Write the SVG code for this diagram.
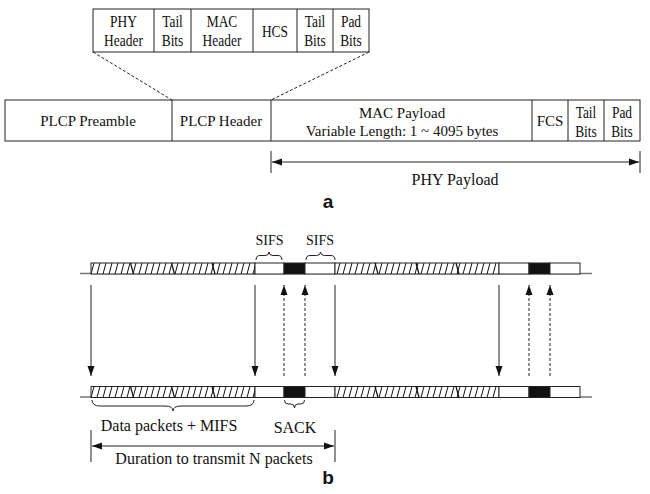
<svg xmlns="http://www.w3.org/2000/svg" width="650" height="494" viewBox="0 0 650 494">
<style>
.t{font-family:"Liberation Serif","Times New Roman",serif;font-size:16px;fill:#111;text-anchor:middle}
.m{font-family:"Liberation Serif","Times New Roman",serif;font-size:15px;fill:#111;text-anchor:middle}
.sf{font-family:"Liberation Serif","Times New Roman",serif;font-size:14px;fill:#111;text-anchor:middle}
.s{font-family:"Liberation Serif","Times New Roman",serif;font-size:16px;fill:#111;text-anchor:middle}
.lab{font-family:"Liberation Sans",Arial,sans-serif;font-size:19px;font-weight:bold;fill:#111;text-anchor:middle}
.box{fill:#fff;stroke:#222;stroke-width:1}
.ln{stroke:#222;stroke-width:1;fill:none}
.dash{stroke:#222;stroke-width:1;fill:none;stroke-dasharray:3,2}
.base{stroke:#777;stroke-width:1.5;fill:none}
.hat{stroke:#222;stroke-width:1}
.blk{fill:#111;stroke:#222;stroke-width:1}
.sep{stroke:#111;stroke-width:1.2}
</style>
<defs>
<pattern id="hatch" patternUnits="userSpaceOnUse" width="6" height="11" x="0" y="263">
<rect width="6" height="11" fill="#fff"/>
<line x1="1" y1="11" x2="4" y2="0" stroke="#111" stroke-width="1"/>
</pattern>
<pattern id="hatch2" patternUnits="userSpaceOnUse" width="6" height="11" x="0" y="386.5">
<rect width="6" height="11" fill="#fff"/>
<line x1="1" y1="11" x2="4" y2="0" stroke="#111" stroke-width="1"/>
</pattern>
<marker id="ah" viewBox="0 0 10 10" refX="10" refY="5" markerWidth="10" markerHeight="10" markerUnits="userSpaceOnUse" orient="auto">
<path d="M0,1.5 L10,5 L0,8.5 Z" fill="#111"/>
</marker>
<marker id="ahs" viewBox="0 0 10 10" refX="10" refY="5" markerWidth="10" markerHeight="10" markerUnits="userSpaceOnUse" orient="auto-start-reverse">
<path d="M0,1.5 L10,5 L0,8.5 Z" fill="#111"/>
</marker>
</defs>

<!-- Part a: header breakdown -->
<g id="header-fields">
<rect class="box" x="93" y="9" width="276" height="43"/>
<line class="ln" x1="154" y1="9" x2="154" y2="52"/>
<line class="ln" x1="191" y1="9" x2="191" y2="52"/>
<line class="ln" x1="253" y1="9" x2="253" y2="52"/>
<line class="ln" x1="297" y1="9" x2="297" y2="52"/>
<line class="ln" x1="333" y1="9" x2="333" y2="52"/>
<g transform="scale(0.84,1)">
<text class="t" x="147.02" y="27">PHY</text>
<text class="t" x="147.02" y="46">Header</text>
<text class="t" x="205.36" y="27">Tail</text>
<text class="t" x="205.36" y="46">Bits</text>
<text class="t" x="264.29" y="27">MAC</text>
<text class="t" x="264.29" y="46">Header</text>
<text class="t" x="327.38" y="37">HCS</text>
<text class="t" x="375" y="27">Tail</text>
<text class="t" x="375" y="46">Bits</text>
<text class="t" x="417.86" y="27">Pad</text>
<text class="t" x="417.86" y="46">Bits</text>
</g>
</g>

<g id="frame">
<rect class="box" x="5" y="100" width="635" height="41"/>
<line class="ln" x1="172" y1="100" x2="172" y2="141"/>
<line class="ln" x1="271" y1="100" x2="271" y2="141"/>
<line class="ln" x1="532" y1="100" x2="532" y2="141"/>
<line class="ln" x1="568" y1="100" x2="568" y2="141"/>
<line class="ln" x1="604" y1="100" x2="604" y2="141"/>
<text class="m" x="88" y="126">PLCP Preamble</text>
<text class="m" x="221" y="126">PLCP Header</text>
<text class="m" x="402" y="118">MAC Payload</text>
<text class="m" x="402" y="136">Variable Length: 1 ~ 4095 bytes</text>
<text class="m" x="550" y="126">FCS</text>
<g transform="scale(0.84,1)">
<text class="t" x="697.62" y="118.5">Tail</text>
<text class="t" x="697.62" y="137">Bits</text>
<text class="t" x="740.48" y="118.5">Pad</text>
<text class="t" x="740.48" y="137">Bits</text>
</g>
</g>

<g id="connectors-a">
<line class="dash" x1="93" y1="52" x2="172" y2="100"/>
<line class="dash" x1="369" y1="52" x2="271" y2="100"/>
<line class="ln" x1="271" y1="151" x2="271" y2="173"/>
<line class="ln" x1="640" y1="151" x2="640" y2="173"/>
<line class="ln" x1="272" y1="162" x2="639" y2="162" marker-start="url(#ahs)" marker-end="url(#ahs)"/>
</g>
<text class="s" x="455" y="185">PHY Payload</text>
<text class="lab" x="328" y="208">a</text>

<!-- Part b: timelines -->
<g id="timeline-top">
<line class="base" x1="80" y1="273.5" x2="592" y2="273.5"/>
<rect class="hat" fill="url(#hatch)" x="91" y="263" width="164" height="11"/>
<rect class="box" x="255" y="263" width="29" height="11"/>
<rect class="blk" x="284" y="263" width="21" height="11"/>
<rect class="box" x="305" y="263" width="30" height="11"/>
<rect class="hat" fill="url(#hatch)" x="335" y="263" width="164" height="11"/>
<rect class="box" x="499" y="263" width="30" height="11"/>
<rect class="blk" x="529" y="263" width="21" height="11"/>
<rect class="box" x="550" y="263" width="30" height="11"/>
<line class="sep" x1="130.5" y1="263" x2="133.5" y2="274"/>
<line class="sep" x1="171.5" y1="263" x2="174.5" y2="274"/>
<line class="sep" x1="212" y1="263" x2="215" y2="274"/>
<line class="sep" x1="375" y1="263" x2="378" y2="274"/>
<line class="sep" x1="416" y1="263" x2="419" y2="274"/>
<line class="sep" x1="456" y1="263" x2="459" y2="274"/>
</g>

<g id="sifs-1">
<path class="ln" d="M256,260 Q256,255.5 260,255.5 L265,255.5 Q269,255.5 269,252 Q269,255.5 273,255.5 L278,255.5 Q282,255.5 282,260"/>
<text class="sf" x="269.5" y="245">SIFS</text>
</g>
<g id="sifs-2">
<path class="ln" d="M306,260 Q306,255.5 310,255.5 L316.5,255.5 Q320.5,255.5 320.5,252 Q320.5,255.5 324.5,255.5 L331,255.5 Q335,255.5 335,260"/>
<text class="sf" x="320" y="245">SIFS</text>
</g>

<g id="timeline-bottom">
<line class="base" x1="80" y1="397" x2="592" y2="397"/>
<rect class="hat" fill="url(#hatch2)" x="91" y="386.5" width="164" height="11"/>
<rect class="box" x="255" y="386.5" width="29" height="11"/>
<rect class="blk" x="284" y="386.5" width="21" height="11"/>
<rect class="box" x="305" y="386.5" width="30" height="11"/>
<rect class="hat" fill="url(#hatch2)" x="335" y="386.5" width="164" height="11"/>
<rect class="box" x="499" y="386.5" width="30" height="11"/>
<rect class="blk" x="529" y="386.5" width="21" height="11"/>
<rect class="box" x="550" y="386.5" width="30" height="11"/>
<line class="sep" x1="130.5" y1="386.5" x2="133.5" y2="397.5"/>
<line class="sep" x1="171.5" y1="386.5" x2="174.5" y2="397.5"/>
<line class="sep" x1="212" y1="386.5" x2="215" y2="397.5"/>
<line class="sep" x1="375" y1="386.5" x2="378" y2="397.5"/>
<line class="sep" x1="416" y1="386.5" x2="419" y2="397.5"/>
<line class="sep" x1="456" y1="386.5" x2="459" y2="397.5"/>
</g>

<g id="connectors-b">
<line class="ln" x1="91" y1="285" x2="91" y2="376" marker-end="url(#ah)"/>
<line class="ln" x1="255" y1="285" x2="255" y2="376" marker-end="url(#ah)"/>
<line class="ln" x1="335" y1="285" x2="335" y2="376" marker-end="url(#ah)"/>
<line class="ln" x1="499" y1="285" x2="499" y2="376" marker-end="url(#ah)"/>
<line class="dash" x1="284" y1="376" x2="284" y2="285" marker-end="url(#ah)"/>
<line class="dash" x1="305" y1="376" x2="305" y2="285" marker-end="url(#ah)"/>
<line class="dash" x1="529" y1="376" x2="529" y2="285" marker-end="url(#ah)"/>
<line class="dash" x1="550" y1="376" x2="550" y2="285" marker-end="url(#ah)"/>
</g>

<g id="data-brace">
<path class="ln" d="M92,400 Q92,406 100,406 L165,406 Q173,406 173,411 Q173,406 181,406 L246,406 Q254,406 254,400"/>
<text class="s" x="169" y="431">Data packets + MIFS</text>
</g>
<g id="sack-brace">
<path class="ln" d="M284.5,400 Q284.5,404 288,404 L291,404 Q294.5,404 294.5,408 Q294.5,404 298,404 L301,404 Q304.5,404 304.5,400"/>
<text class="s" x="295" y="433">SACK</text>
</g>
<g id="duration">
<line class="ln" x1="91" y1="430" x2="91" y2="462"/>
<line class="ln" x1="335" y1="430" x2="335" y2="462"/>
<line class="ln" x1="92" y1="446" x2="334" y2="446" marker-start="url(#ahs)" marker-end="url(#ahs)"/>
<text class="s" x="214" y="464">Duration to transmit N packets</text>
</g>
<text class="lab" x="328" y="484">b</text>
</svg>
